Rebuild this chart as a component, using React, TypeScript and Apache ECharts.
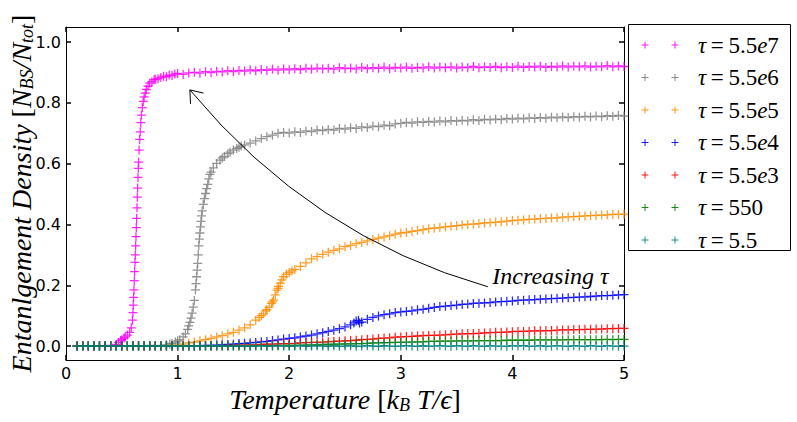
import React, { useEffect, useRef } from "react";
import * as echarts from "echarts";

// Temperature grid (k_B T / epsilon)
const temps = [
  0.10, 0.15, 0.20, 0.25, 0.30, 0.35, 0.40, 0.45, 0.50, 0.55,
  0.60, 0.65, 0.70, 0.75, 0.80, 0.85, 0.90, 0.95, 1.00, 1.05,
  1.10, 1.15, 1.20, 1.25, 1.30, 1.35, 1.40, 1.45, 1.50, 1.55,
  1.60, 1.65, 1.70, 1.75, 1.80, 1.85, 1.90, 1.95, 2.00, 2.05,
  2.10, 2.15, 2.20, 2.25, 2.30, 2.35, 2.40, 2.45, 2.50, 2.55,
  2.60, 2.65, 2.70, 2.75, 2.80, 2.85, 2.90, 2.95, 3.00, 3.05,
  3.10, 3.15, 3.20, 3.25, 3.30, 3.35, 3.40, 3.45, 3.50, 3.55,
  3.60, 3.65, 3.70, 3.75, 3.80, 3.85, 3.90, 3.95, 4.00, 4.05,
  4.10, 4.15, 4.20, 4.25, 4.30, 4.35, 4.40, 4.45, 4.50, 4.55,
  4.60, 4.65, 4.70, 4.75, 4.80, 4.85, 4.90, 4.95, 5.00,
];

// tau = 5.5e7
const tau55e7 = [
  0.000, 0.001, 0.000, 0.001, 0.000, 0.001, 0.002, 0.005, 0.021, 0.036,
  0.110, 0.605, 0.820, 0.865, 0.878, 0.884, 0.886, 0.890, 0.897, 0.894,
  0.899, 0.901, 0.898, 0.903, 0.900, 0.904, 0.902, 0.906, 0.903, 0.907,
  0.905, 0.909, 0.906, 0.910, 0.907, 0.911, 0.908, 0.912, 0.909, 0.913,
  0.910, 0.914, 0.911, 0.915, 0.912, 0.914, 0.911, 0.916, 0.913, 0.915,
  0.912, 0.917, 0.913, 0.916, 0.914, 0.918, 0.913, 0.917, 0.915, 0.918,
  0.914, 0.917, 0.915, 0.919, 0.915, 0.918, 0.916, 0.919, 0.915, 0.918,
  0.916, 0.920, 0.916, 0.919, 0.917, 0.920, 0.916, 0.919, 0.917, 0.921,
  0.917, 0.920, 0.918, 0.921, 0.917, 0.920, 0.918, 0.922, 0.918, 0.921,
  0.919, 0.922, 0.918, 0.921, 0.919, 0.923, 0.919, 0.922, 0.920,
];
const tau55e7Rise = [
  [0.47, 0.012], [0.49, 0.018], [0.52, 0.026], [0.53, 0.030], [0.57, 0.045],
  [0.585, 0.060], [0.595, 0.085], [0.603, 0.135], [0.606, 0.160], [0.609, 0.185],
  [0.612, 0.215], [0.615, 0.245], [0.618, 0.275], [0.621, 0.300], [0.624, 0.330],
  [0.627, 0.360], [0.630, 0.390], [0.633, 0.420], [0.636, 0.455], [0.639, 0.490],
  [0.642, 0.520], [0.645, 0.555], [0.648, 0.585], [0.655, 0.645], [0.660, 0.680],
  [0.665, 0.705], [0.670, 0.735], [0.676, 0.760], [0.684, 0.785], [0.692, 0.805],
  [0.710, 0.832], [0.720, 0.845], [0.735, 0.855], [0.770, 0.870], [0.790, 0.876],
  [0.825, 0.880], [0.875, 0.888], [0.925, 0.892], [0.975, 0.895],
];

// tau = 5.5e6
const tau55e6 = [
  0.000, 0.001, 0.000, 0.000, 0.001, 0.000, 0.001, 0.000, 0.001, 0.000,
  0.001, 0.001, 0.000, 0.002, 0.001, 0.002, 0.004, 0.009, 0.017, 0.030,
  0.066, 0.150, 0.372, 0.502, 0.572, 0.601, 0.619, 0.633, 0.645, 0.654,
  0.662, 0.668, 0.675, 0.683, 0.689, 0.694, 0.700, 0.703, 0.701, 0.705,
  0.703, 0.708, 0.706, 0.711, 0.709, 0.713, 0.711, 0.716, 0.714, 0.718,
  0.716, 0.721, 0.719, 0.724, 0.722, 0.727, 0.725, 0.731, 0.733, 0.736,
  0.734, 0.738, 0.736, 0.739, 0.737, 0.741, 0.738, 0.742, 0.740, 0.743,
  0.741, 0.745, 0.742, 0.746, 0.744, 0.747, 0.745, 0.749, 0.747, 0.750,
  0.748, 0.751, 0.749, 0.752, 0.750, 0.753, 0.751, 0.754, 0.752, 0.755,
  0.753, 0.756, 0.754, 0.757, 0.755, 0.758, 0.756, 0.759, 0.757,
];
const tau55e6Rise = [
  [0.93, 0.007], [0.98, 0.013], [1.02, 0.021], [1.07, 0.040], [1.09, 0.055],
  [1.11, 0.078], [1.12, 0.092], [1.13, 0.108], [1.14, 0.128], [1.16, 0.185],
  [1.165, 0.205], [1.17, 0.228], [1.175, 0.250], [1.18, 0.272], [1.185, 0.300],
  [1.19, 0.330], [1.195, 0.352], [1.205, 0.392], [1.21, 0.410], [1.215, 0.428],
  [1.22, 0.445], [1.23, 0.466], [1.24, 0.485], [1.26, 0.518], [1.27, 0.532],
  [1.28, 0.550], [1.29, 0.565], [1.32, 0.586], [1.38, 0.612], [1.42, 0.624],
  [1.47, 0.638], [1.53, 0.650], [1.57, 0.658],
];

// tau = 5.5e5
const tau55e5 = [
  0.000, 0.000, 0.001, 0.000, 0.000, 0.001, 0.000, 0.000, 0.001, 0.000,
  0.000, 0.001, 0.000, 0.001, 0.000, 0.000, 0.001, 0.002, 0.003, 0.006,
  0.010, 0.013, 0.017, 0.021, 0.025, 0.030, 0.034, 0.040, 0.045, 0.052,
  0.060, 0.070, 0.085, 0.100, 0.120, 0.145, 0.190, 0.228, 0.242, 0.252,
  0.262, 0.274, 0.287, 0.294, 0.302, 0.309, 0.315, 0.320, 0.327, 0.331,
  0.337, 0.341, 0.346, 0.351, 0.355, 0.359, 0.363, 0.368, 0.372, 0.374,
  0.377, 0.380, 0.383, 0.386, 0.388, 0.390, 0.392, 0.394, 0.396, 0.398,
  0.400, 0.401, 0.403, 0.405, 0.406, 0.408, 0.409, 0.411, 0.413, 0.414,
  0.415, 0.417, 0.418, 0.419, 0.420, 0.421, 0.422, 0.424, 0.425, 0.426,
  0.427, 0.428, 0.429, 0.430, 0.431, 0.432, 0.433, 0.433, 0.434,
];
const tau55e5Rise = [
  [1.73, 0.094], [1.77, 0.106], [1.79, 0.116], [1.82, 0.128], [1.84, 0.140],
  [1.86, 0.151], [1.875, 0.168], [1.89, 0.184], [1.905, 0.196], [1.92, 0.207],
  [1.935, 0.218], [1.975, 0.236], [2.025, 0.247],
];

// tau = 5.5e4
const tau55e4 = [
  0.000, 0.001, 0.000, 0.000, 0.001, 0.000, 0.000, 0.001, 0.000, 0.000,
  0.001, 0.000, 0.000, 0.001, 0.000, 0.000, 0.001, 0.000, 0.001, 0.000,
  0.001, 0.000, 0.001, 0.002, 0.002, 0.003, 0.004, 0.005, 0.006, 0.008,
  0.009, 0.010, 0.012, 0.014, 0.015, 0.018, 0.020, 0.023, 0.025, 0.027,
  0.030, 0.033, 0.036, 0.040, 0.044, 0.048, 0.052, 0.057, 0.063, 0.070,
  0.082, 0.079, 0.088, 0.094, 0.099, 0.103, 0.106, 0.110, 0.112, 0.114,
  0.116, 0.119, 0.121, 0.124, 0.127, 0.130, 0.131, 0.133, 0.135, 0.137,
  0.138, 0.140, 0.141, 0.142, 0.143, 0.145, 0.146, 0.147, 0.148, 0.150,
  0.151, 0.152, 0.153, 0.154, 0.155, 0.156, 0.157, 0.158, 0.159, 0.160,
  0.161, 0.162, 0.163, 0.164, 0.166, 0.166, 0.167, 0.168, 0.169,
];
const tau55e4Extra = [[2.58, 0.076], [2.62, 0.084], [2.63, 0.076]];

// tau = 5.5e3
const tau55e3 = [
  0.000, 0.001, 0.000, 0.000, 0.001, 0.000, 0.000, 0.001, 0.000, 0.000,
  0.000, 0.001, 0.000, 0.000, 0.001, 0.000, 0.000, 0.001, 0.000, 0.000,
  0.000, 0.001, 0.000, 0.001, 0.001, 0.001, 0.001, 0.002, 0.002, 0.003,
  0.003, 0.004, 0.004, 0.005, 0.006, 0.006, 0.007, 0.008, 0.008, 0.009,
  0.010, 0.011, 0.012, 0.012, 0.013, 0.014, 0.015, 0.016, 0.017, 0.018,
  0.019, 0.021, 0.022, 0.023, 0.025, 0.026, 0.027, 0.029, 0.030, 0.031,
  0.032, 0.033, 0.034, 0.035, 0.035, 0.036, 0.037, 0.038, 0.039, 0.040,
  0.041, 0.041, 0.042, 0.043, 0.044, 0.045, 0.045, 0.046, 0.047, 0.048,
  0.048, 0.049, 0.050, 0.050, 0.051, 0.051, 0.052, 0.053, 0.053, 0.054,
  0.054, 0.055, 0.055, 0.056, 0.056, 0.057, 0.057, 0.058, 0.058,
];

// tau = 550
const tau550 = [
  0.000, 0.000, 0.001, 0.000, 0.000, 0.000, 0.001, 0.000, 0.000, 0.000,
  0.000, 0.000, 0.001, 0.000, 0.000, 0.000, 0.001, 0.000, 0.000, 0.000,
  0.000, 0.000, 0.001, 0.000, 0.000, 0.000, 0.001, 0.000, 0.000, 0.000,
  0.000, 0.000, 0.001, 0.001, 0.001, 0.001, 0.001, 0.002, 0.002, 0.002,
  0.003, 0.003, 0.004, 0.004, 0.005, 0.005, 0.006, 0.006, 0.007, 0.007,
  0.008, 0.008, 0.009, 0.010, 0.010, 0.011, 0.011, 0.012, 0.012, 0.013,
  0.013, 0.014, 0.014, 0.015, 0.015, 0.016, 0.016, 0.016, 0.017, 0.017,
  0.017, 0.017, 0.018, 0.018, 0.018, 0.018, 0.018, 0.019, 0.019, 0.019,
  0.019, 0.019, 0.020, 0.020, 0.020, 0.020, 0.020, 0.020, 0.021, 0.021,
  0.021, 0.021, 0.021, 0.021, 0.021, 0.022, 0.021, 0.022, 0.022,
];

// tau = 5.5
const tau5p5 = [
  0.000, -0.001, 0.001, 0.000, -0.001, 0.000, 0.001, -0.001, 0.000, 0.001,
  -0.001, 0.000, 0.001, -0.001, 0.000, 0.001, 0.000, -0.001, 0.001, 0.000,
  0.000, -0.001, 0.001, 0.000, -0.001, 0.001, 0.000, 0.000, -0.001, 0.001,
  0.000, -0.001, 0.000, 0.001, -0.001, 0.000, 0.001, 0.000, -0.001, 0.000,
  0.001, -0.001, 0.000, 0.001, 0.000, -0.001, 0.001, -0.001, 0.000, 0.001,
  -0.001, 0.000, 0.001, 0.000, -0.001, 0.001, 0.000, -0.001, 0.000, 0.001,
  0.000, -0.001, 0.001, -0.001, 0.000, 0.001, 0.000, -0.001, 0.001, 0.000,
  -0.001, 0.001, 0.000, -0.001, 0.001, 0.000, 0.000, -0.001, 0.001, 0.000,
  0.001, -0.001, 0.000, 0.001, -0.001, 0.000, 0.001, 0.000, -0.001, 0.001,
  0.000, -0.001, 0.001, 0.000, -0.001, 0.001, 0.000, -0.001, 0.000,
];

const seriesNames = ["τ=5.5e7", "τ=5.5e6", "τ=5.5e5", "τ=5.5e4", "τ=5.5e3", "τ=550", "τ=5.5"];
const seriesColors = ["#ff00ff", "#808080", "#ff8c00", "#0000ff", "#ff0000", "#008000", "#008080"];
const seriesGrid = [tau55e7, tau55e6, tau55e5, tau55e4, tau55e3, tau550, tau5p5];
const seriesExtra: number[][][] = [tau55e7Rise, tau55e6Rise, tau55e5Rise, tau55e4Extra, [], [], []];

const xTicks = [0, 1, 2, 3, 4, 5];
const yTicks = [0, 0.2, 0.4, 0.6, 0.8, 1.0];

// annotation (data coordinates)
const arrowTip = [1.11, 0.843];
const arrowCtrl = [2.2, 0.36];
const arrowTail = [3.78, 0.195];
const arrowLabelAt = [3.82, 0.232];
const arrowLabel = "Increasing τ";

const PLUS = "path://M0,4.3H10V5.7H0Z M4.3,0H5.7V10H4.3Z";

const SERIF = "Liberation Serif";
const SANS = "DejaVu Sans";

export default function App() {
  const ref = useRef<HTMLDivElement>(null);
  useEffect(() => {
    if (!ref.current) return;
    const chart = echarts.init(ref.current, null, { renderer: "svg" });

    const series = seriesNames.map((name, k) => ({
      name,
      type: "scatter",
      data: [...temps.map((t, i) => [t, seriesGrid[k][i]]), ...seriesExtra[k]],
      symbol: PLUS,
      symbolSize: 9,
      silent: true,
      itemStyle: { color: seriesColors[k], opacity: 0.85 },
    }));

    const legendRich = (name: string) => {
      const v = name.split("=")[1];
      if (v.includes("e")) {
        const [m, e] = v.split("e");
        return `{g|τ}{r|\u2009=\u2009${m}}{g|e}{r|${e}}`;
      }
      return `{g|τ}{r|\u2009=\u2009${v}}`;
    };

    const axisCommon = {
      axisLine: { show: true, onZero: false, lineStyle: { color: "#000", width: 1 } },
      axisTick: { show: true, inside: true, length: 5, lineStyle: { color: "#000", width: 1.5 } },
      splitLine: { show: false },
    };

    const nameRich = {
      i: { fontFamily: SERIF, fontStyle: "italic", fontSize: 28, lineHeight: 30, color: "#000" },
      r: { fontFamily: SERIF, fontSize: 28, lineHeight: 30, color: "#000" },
      s: { fontFamily: SERIF, fontStyle: "italic", fontSize: 18, lineHeight: 18, verticalAlign: "bottom", color: "#000" },
    };

    chart.setOption({
      animation: false,
      backgroundColor: "#fff",
      grid: { left: 66, right: 173, top: 27, bottom: 62, containLabel: false, outerBoundsMode: "none" },
      legend: { show: false, data: seriesNames },
      xAxis: [
        {
          type: "value",
          min: 0,
          max: 5,
          interval: 1,
          position: "bottom",
          ...axisCommon,
          axisLabel: {
            color: "#000",
            fontSize: 16,
            fontFamily: SANS,
            margin: 5,
            formatter: (v: number) => (xTicks.includes(v) ? String(v) : ""),
          },
          name: "{i|Temperature }{r|[}{i|k}{s|B}{i| T/ϵ}{r|]}",
          nameLocation: "middle",
          nameGap: 24,
          nameMoveOverlap: false,
          nameTextStyle: { rich: nameRich },
        },
        {
          type: "value",
          min: 0,
          max: 5,
          interval: 1,
          position: "top",
          ...axisCommon,
          axisLabel: { show: false },
        },
      ],
      yAxis: [
        {
          type: "value",
          min: -0.046,
          max: 1.05,
          position: "left",
          ...axisCommon,
          axisTick: { ...axisCommon.axisTick, customValues: yTicks },
          axisLabel: {
            color: "#000",
            fontSize: 16,
            fontFamily: SANS,
            margin: 5,
            customValues: yTicks,
            formatter: (v: number) => v.toFixed(1),
          },
          name: "{i|Entanlgement Density }{r|[}{i|N}{s|BS}{i|/N}{s|tot}{r|]}",
          nameLocation: "middle",
          nameRotate: 90,
          nameGap: 30,
          nameMoveOverlap: false,
          nameTextStyle: { rich: nameRich },
        },
        {
          type: "value",
          min: -0.046,
          max: 1.05,
          position: "right",
          ...axisCommon,
          axisTick: { ...axisCommon.axisTick, customValues: yTicks },
          axisLabel: { show: false, customValues: yTicks },
        },
      ],
      series,
    });

    const px = (p: number[]) => chart.convertToPixel({ gridIndex: 0 }, p) as number[];
    const tip = px(arrowTip);
    const ctrl = px(arrowCtrl);
    const tail = px(arrowTail);
    const lab = px(arrowLabelAt);
    const ang = Math.atan2(ctrl[1] - tip[1], ctrl[0] - tip[0]);
    const spread = (37 * Math.PI) / 180;
    const headLen = 14;
    const h1 = [tip[0] + headLen * Math.cos(ang - spread), tip[1] + headLen * Math.sin(ang - spread)];
    const h2 = [tip[0] + headLen * Math.cos(ang + spread), tip[1] + headLen * Math.sin(ang + spread)];

    // legend box (drawn as graphic so the math-style text renders in serif)
    const legendLeft = 628;
    const legendTop = 24;
    const legendW = 162;
    const legendH = 226;
    const rowY0 = 45;
    const rowStep = 32.5;
    const legendEls: any[] = [
      {
        type: "rect",
        silent: true,
        z: 110,
        shape: { x: legendLeft + 0.5, y: legendTop + 0.5, width: legendW, height: legendH },
        style: { fill: "#fff", stroke: "#000", lineWidth: 1 },
      },
    ];
    seriesNames.forEach((name, k) => {
      const y = rowY0 + k * rowStep;
      [645, 675].forEach((cx) => {
        legendEls.push(
          {
            type: "line",
            silent: true,
            z: 111,
            shape: { x1: cx - 3.5, y1: y, x2: cx + 3.5, y2: y },
            style: { stroke: seriesColors[k], lineWidth: 0.9 },
          },
          {
            type: "line",
            silent: true,
            z: 111,
            shape: { x1: cx, y1: y - 3.5, x2: cx, y2: y + 3.5 },
            style: { stroke: seriesColors[k], lineWidth: 0.9 },
          }
        );
      });
      legendEls.push({
        type: "text",
        silent: true,
        z: 111,
        x: 698,
        y,
        style: {
          text: legendRich(name),
          verticalAlign: "middle",
          align: "left",
          fill: "#000",
          fontFamily: SERIF,
          fontSize: 23,
          rich: {
            g: { fontFamily: SERIF, fontStyle: "italic", fontSize: 23, fill: "#000" },
            r: { fontFamily: SERIF, fontStyle: "normal", fontSize: 23, fill: "#000" },
          },
        },
      });
    });

    chart.setOption({
      graphic: [
        {
          type: "bezierCurve",
          silent: true,
          z: 100,
          shape: { x1: tail[0], y1: tail[1], cpx1: ctrl[0], cpy1: ctrl[1], x2: tip[0], y2: tip[1] },
          style: { stroke: "#000", lineWidth: 1, fill: null },
        },
        {
          type: "polyline",
          silent: true,
          z: 100,
          shape: { points: [h1, tip, h2] },
          style: { stroke: "#000", lineWidth: 1, fill: null },
        },
        {
          type: "text",
          silent: true,
          z: 100,
          x: lab[0],
          y: lab[1],
          style: {
            text: arrowLabel,
            fontFamily: SERIF,
            fontStyle: "italic",
            fontSize: 24,
            fill: "#000",
            verticalAlign: "middle",
            align: "left",
          },
        },
        ...legendEls,
      ],
    });

    return () => chart.dispose();
  }, []);

  return (
    <div
      ref={ref}
      style={{ position: "fixed", left: 0, top: 0, width: 797, height: 422, background: "#fff" }}
    />
  );
}
